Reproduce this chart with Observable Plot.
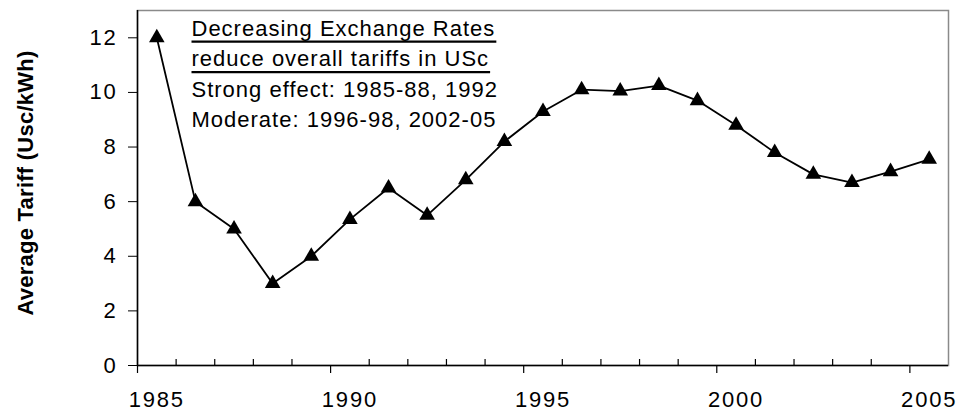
<!DOCTYPE html>
<html>
<head>
<meta charset="utf-8">
<script src="https://cdn.jsdelivr.net/npm/d3@7"></script>
<script src="https://cdn.jsdelivr.net/npm/@observablehq/plot@0.6"></script>
<style>
  body { margin: 0; background: #fff; }
  #chart svg { display: block; }
</style>
</head>
<body>
<div id="chart"></div>
<script>
// ---- data ----
const years = [1985, 1986, 1987, 1988, 1989, 1990, 1991, 1992, 1993, 1994, 1995,
               1996, 1997, 1998, 1999, 2000, 2001, 2002, 2003, 2004, 2005];
const tariffs = [12.0, 6.0, 5.0, 3.0, 4.0, 5.35, 6.5, 5.5, 6.8, 8.2, 9.3,
                 10.1, 10.05, 10.25, 9.7, 8.8, 7.8, 7.0, 6.7, 7.1, 7.55];
const yTicks = [0, 2, 4, 6, 8, 10, 12];
const xTickLabels = [1985, 1990, 1995, 2000, 2005];
const yTitle = "Average Tariff (Usc/kWh)";
const noteHeading = ["Decreasing Exchange Rates", "reduce overall tariffs in USc"];
const noteBody = ["Strong effect: 1985-88, 1992", "Moderate: 1996-98, 2002-05"];

// ---- derived tables ----
const data = years.map((year, i) => ({year, tariff: tariffs[i]}));
// category boundaries (Excel-style category axis: ticks between categories)
const bounds = years.map(y => y - 0.5);
const majorBounds = bounds.filter((b, i) => i % 5 === 0);
const minorBounds = bounds.filter((b, i) => i % 5 !== 0);

const chart = Plot.plot({
  width: 956,
  height: 416,
  marginLeft: 137,
  marginRight: 8,
  marginTop: 10,
  marginBottom: 51,
  style: "font-family: Arial, 'Liberation Sans', sans-serif; font-size: 22px; letter-spacing: 1px; color: #000; background: #fff;",
  x: {type: "linear", domain: [years[0] - 0.5, years[years.length - 1] + 0.5]},
  y: {domain: [0, 13]},
  marks: [
    Plot.frame({stroke: "#8a8a8a", strokeWidth: 1.5}),
    // axes lines
    Plot.ruleY([0], {stroke: "#000", strokeWidth: 1.5}),
    Plot.ruleX([bounds[0]], {stroke: "#000", strokeWidth: 1.5}),
    // major ticks (downward) and minor ticks (upward)
    Plot.ruleX(majorBounds, {x: d => d, y1: 0, y2: 0, insetBottom: -8, stroke: "#000", strokeWidth: 1.2}),
    Plot.ruleX(minorBounds, {x: d => d, y1: 0, y2: 0, insetTop: -6, stroke: "#000", strokeWidth: 1.2}),
    Plot.axisX({ticks: xTickLabels, tickSize: 0, tickPadding: 26, tickFormat: d => `${d}`, label: null, fill: "#000"}),
    Plot.axisY({ticks: yTicks, tickSize: 9, tickPadding: 11, label: null, stroke: "#000", fill: "#000"}),
    Plot.text([yTitle], {frameAnchor: "left", dx: -112, dy: -5, rotate: -90, text: d => d,
      fontWeight: "bold", fontSize: 22, fill: "#000", textAnchor: "middle"}),
    // annotation
    Plot.text([noteHeading.join("\n")], {frameAnchor: "top-left", dx: 54, dy: 3.5, text: d => d,
      textAnchor: "start", lineAnchor: "top", lineHeight: 30.5 / 22, fill: "#000"}),
    Plot.text([noteBody.join("\n")], {frameAnchor: "top-left", dx: 54, dy: 65, text: d => d,
      textAnchor: "start", lineAnchor: "top", lineHeight: 30 / 22, fill: "#000"}),
    // series
    Plot.line(data, {x: "year", y: "tariff", stroke: "#000", strokeWidth: 1.8}),
    Plot.dot(data, {x: "year", y: "tariff", symbol: "triangle", r: 5.8, fill: "#000", stroke: "none"})
  ]
});

const svgSel = d3.select(chart);
svgSel.selectAll("text")
  .filter(function () { return this.textContent === yTitle; })
  .style("letter-spacing", "0.25px");
svgSel.selectAll('g[aria-label="x-axis tick label"] text, g[aria-label="y-axis tick label"] text')
  .style("letter-spacing", "1.8px");

document.getElementById("chart").appendChild(chart);

// underline the heading lines of the note (measured from the rendered text)
svgSel.selectAll("text")
  .filter(function () { return this.textContent.startsWith(noteHeading[0]); })
  .each(function () {
    const textEl = this;
    const spans = textEl.querySelectorAll("tspan");
    const parts = spans.length ? Array.from(spans) : [textEl];
    parts.forEach(part => {
      const p = part.getStartPositionOfChar(0);
      const len = part.getComputedTextLength();
      d3.select(textEl.parentNode).append("line")
        .attr("transform", textEl.getAttribute("transform"))
        .attr("x1", p.x).attr("x2", p.x + len + 1)
        .attr("y1", p.y + 6).attr("y2", p.y + 6)
        .attr("stroke", "#000").attr("stroke-width", 2.2);
    });
  });
</script>
</body>
</html>
